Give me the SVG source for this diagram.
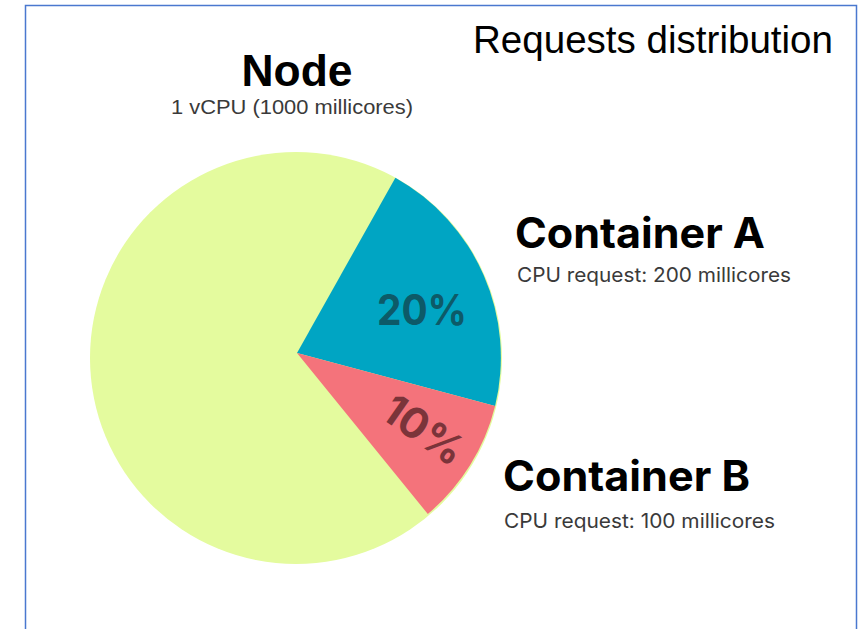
<svg xmlns="http://www.w3.org/2000/svg" width="864" height="629" viewBox="0 0 864 629">
<style>
.head{font-family:"Liberation Sans",Arial,sans-serif;font-weight:700;fill:#000}
.cont{font-family:Inter,"Liberation Sans",sans-serif;font-weight:700;fill:#000}
.sub{font-family:Inter,"Liberation Sans",sans-serif;font-size:20px;fill:#3a3a3a}
.pct{font-family:Inter,"Liberation Sans",sans-serif;font-weight:700}
</style>
<rect width="864" height="629" fill="#fff"/>
<path d="M25.5,640 V5.5 H856.5 V640" fill="none" stroke="#4a78cf" stroke-width="1.5"/>
<text x="473" y="53" font-family="Liberation Sans, Arial, sans-serif" font-size="38" textLength="360" lengthAdjust="spacingAndGlyphs" fill="#000">Requests distribution</text>
<g id="pie">
  <circle cx="296" cy="358" r="206" fill="#e4fb9e"/>
  <path d="M297,353 L395.4,177.7 A206,206 0 0 1 495.1,405.9 Z" fill="#00a5c3"/>
  <path d="M297,353 L495.1,405.9 A206,206 0 0 1 427.8,514 Z" fill="#f4737b"/>
  <text class="pct" x="422" y="325" font-size="42" text-anchor="middle" textLength="90" lengthAdjust="spacingAndGlyphs" fill="#0d5a68">20%</text>
  <text class="pct" transform="translate(424,430) rotate(35)" x="0" y="15" font-size="42" text-anchor="middle" fill="#7b343a">10%</text>
</g>
<g id="node">
  <text class="head" x="297" y="86" font-size="44" text-anchor="middle" textLength="111" lengthAdjust="spacingAndGlyphs">Node</text>
  <text x="292" y="114" font-family="Liberation Sans, Arial, sans-serif" font-size="21" fill="#3a3a3a" text-anchor="middle" textLength="242" lengthAdjust="spacingAndGlyphs">1 vCPU (1000 millicores)</text>
</g>
<g id="container-a">
  <text class="cont" x="515" y="248" font-size="42" textLength="250" lengthAdjust="spacingAndGlyphs">Container A</text>
  <text class="sub" x="517" y="282" textLength="274" lengthAdjust="spacingAndGlyphs">CPU request: 200 millicores</text>
</g>
<g id="container-b">
  <text class="cont" x="503" y="491" font-size="42" textLength="247" lengthAdjust="spacingAndGlyphs">Container B</text>
  <text class="sub" x="504" y="528" textLength="271" lengthAdjust="spacingAndGlyphs">CPU request: 100 millicores</text>
</g>
</svg>
